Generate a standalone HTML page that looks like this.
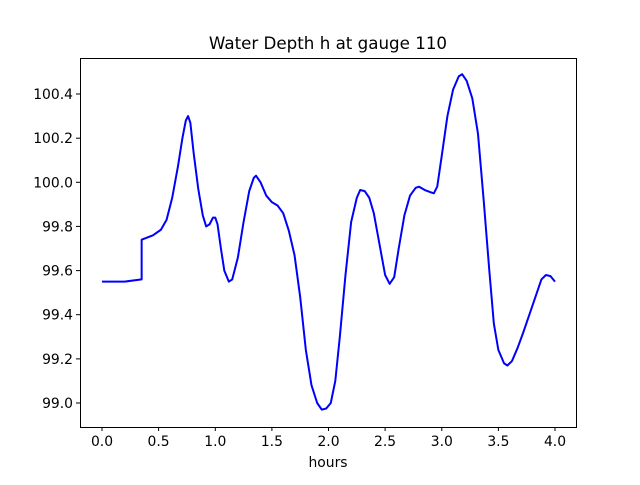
<!DOCTYPE html>
<html><head><meta charset="utf-8"><style>
body{margin:0;background:#fff;}
svg text{font-family:"DejaVu Sans","Liberation Sans",sans-serif;font-size:13.9px;fill:#000;}
</style></head><body>
<svg width="640" height="480" xmlns="http://www.w3.org/2000/svg">
<rect width="640" height="480" fill="#fff"/>
<text x="328" y="49" text-anchor="middle" style="font-size:16.7px">Water Depth h at gauge 110</text>
<g transform="translate(102,403) scale(113.25,-220.7)">
<polyline fill="none" stroke="#0000ff" stroke-width="2" vector-effect="non-scaling-stroke" stroke-linejoin="round"
points="0,0.55 0.2,0.55 0.35,0.56 0.35,0.74 0.45,0.76 0.52,0.785 0.57,0.83 0.62,0.93 0.67,1.07 0.71,1.2 0.74,1.28 0.76,1.3 0.78,1.27 0.81,1.13 0.85,0.97 0.89,0.85 0.92,0.8 0.95,0.81 0.98,0.84 1.0,0.84 1.02,0.81 1.05,0.7 1.08,0.6 1.12,0.55 1.15,0.56 1.2,0.66 1.25,0.82 1.3,0.96 1.34,1.02 1.36,1.03 1.4,1.0 1.45,0.94 1.5,0.91 1.55,0.895 1.6,0.86 1.65,0.78 1.7,0.67 1.75,0.48 1.8,0.24 1.85,0.08 1.9,0.0 1.94,-0.03 1.98,-0.025 2.02,0.0 2.06,0.1 2.1,0.3 2.15,0.58 2.2,0.82 2.25,0.93 2.28,0.965 2.32,0.96 2.36,0.93 2.4,0.86 2.45,0.72 2.5,0.58 2.54,0.54 2.58,0.57 2.62,0.7 2.67,0.85 2.72,0.94 2.77,0.975 2.8,0.98 2.85,0.965 2.9,0.955 2.93,0.95 2.96,0.98 3.0,1.12 3.05,1.3 3.1,1.42 3.15,1.48 3.18,1.49 3.22,1.46 3.27,1.38 3.32,1.22 3.37,0.92 3.42,0.6 3.46,0.36 3.5,0.24 3.55,0.18 3.58,0.17 3.62,0.19 3.67,0.25 3.72,0.32 3.78,0.41 3.84,0.5 3.88,0.56 3.92,0.58 3.96,0.575 4.0,0.55"/>
</g>
<rect x="80.5" y="58.5" width="496" height="369" fill="none" stroke="#000" stroke-width="1"/>
<g stroke="#000" stroke-width="1">
<line x1="102" y1="427" x2="102" y2="431"/><line x1="158.6" y1="427" x2="158.6" y2="431"/>
<line x1="215.3" y1="427" x2="215.3" y2="431"/><line x1="271.9" y1="427" x2="271.9" y2="431"/>
<line x1="328.5" y1="427" x2="328.5" y2="431"/><line x1="385.1" y1="427" x2="385.1" y2="431"/>
<line x1="441.8" y1="427" x2="441.8" y2="431"/><line x1="498.4" y1="427" x2="498.4" y2="431"/>
<line x1="555" y1="427" x2="555" y2="431"/>
<line x1="76" y1="403" x2="80" y2="403"/><line x1="76" y1="358.9" x2="80" y2="358.9"/>
<line x1="76" y1="314.7" x2="80" y2="314.7"/><line x1="76" y1="270.6" x2="80" y2="270.6"/>
<line x1="76" y1="226.4" x2="80" y2="226.4"/><line x1="76" y1="182.3" x2="80" y2="182.3"/>
<line x1="76" y1="138.2" x2="80" y2="138.2"/><line x1="76" y1="94" x2="80" y2="94"/>
</g>
<g text-anchor="middle">
<text x="102" y="446">0.0</text><text x="158.6" y="446">0.5</text><text x="215.3" y="446">1.0</text>
<text x="271.9" y="446">1.5</text><text x="328.5" y="446">2.0</text><text x="385.1" y="446">2.5</text>
<text x="441.8" y="446">3.0</text><text x="498.4" y="446">3.5</text><text x="555" y="446">4.0</text>
<text x="328" y="467">hours</text>
</g>
<g text-anchor="end">
<text x="73" y="408">99.0</text><text x="73" y="363.9">99.2</text><text x="73" y="319.7">99.4</text>
<text x="73" y="275.6">99.6</text><text x="73" y="231.4">99.8</text><text x="73" y="187.3">100.0</text>
<text x="73" y="143.2">100.2</text><text x="73" y="99">100.4</text>
</g>
</svg>
</body></html>
